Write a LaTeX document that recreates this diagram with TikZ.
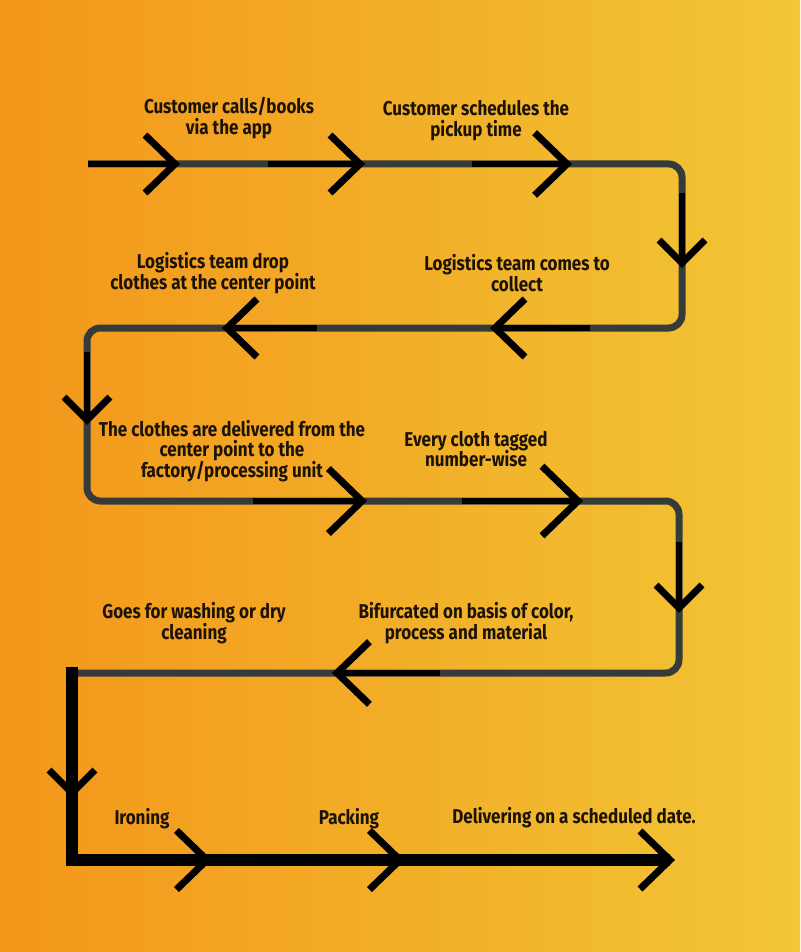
\documentclass[tikz,border=0pt]{standalone}
\usepackage{fontspec}
\setmainfont{Fira Sans}[FakeStretch=0.85]
\begin{document}
\begin{tikzpicture}[x=0.75pt,y=-0.75pt,
  lbl/.style={align=center,text=txt,font=\fontsize{15}{15.6}\selectfont\bfseries,inner sep=0pt},
  grayline/.style={draw=pathgray,line width=5.25pt,rounded corners=10pt},
  blackseg/.style={draw=black,line width=5pt},
  thickline/.style={draw=black,line width=8.5pt},
  chevline/.style={draw=black,line width=5.25pt,line cap=butt,line join=miter},
  chevR/.pic={\draw[chevline] (-30,-29) -- (0,0) -- (-30,29);},
  chevL/.pic={\draw[chevline] (30,-29) -- (0,0) -- (30,29);},
  chevD/.pic={\draw[chevline] (-23,-23) -- (0,0) -- (23,-23);}]
\definecolor{pathgray}{HTML}{353A3B}
\definecolor{txt}{HTML}{1C1306}
\definecolor{bgL}{HTML}{F3961A}
\definecolor{bgM}{HTML}{F2AD24}
\definecolor{bgR}{HTML}{F2C636}
\shade[left color=bgL,middle color=bgM,right color=bgR] (0,0) rectangle (800,952);
\useasboundingbox (0,0) rectangle (800,952);

% corner coordinates
\coordinate (s) at (88,164);
\coordinate (c1) at (682,164);
\coordinate (c2) at (682,328);
\coordinate (c3) at (87,328);
\coordinate (c4) at (87,501);
\coordinate (c5) at (679,501);
\coordinate (c6) at (679,673);
\coordinate (c7) at (72,673);
\coordinate (k1) at (72,667);
\coordinate (k2) at (72,860);
\coordinate (e) at (670,860);

% arrow tips
\coordinate (A1) at (175,164);
\coordinate (A2) at (360,164);
\coordinate (A3) at (567,164);
\coordinate (A4) at (682,263);
\coordinate (A5) at (495,328);
\coordinate (A6) at (227,328);
\coordinate (A7) at (87,420);
\coordinate (A8) at (362,501);
\coordinate (A9) at (578,501);
\coordinate (A10) at (679,608);
\coordinate (A11) at (337,673);
\coordinate (A12) at (72,793);
\coordinate (A13) at (207,860);
\coordinate (A14) at (400,860);

% black segment starts
\coordinate (B2) at (268,164);
\coordinate (B3) at (472,164);
\coordinate (B4) at (682,193);
\coordinate (B5) at (590,328);
\coordinate (B6) at (317,328);
\coordinate (B7) at (87,352);
\coordinate (B8) at (253,501);
\coordinate (B9) at (462,501);
\coordinate (B10) at (679,542);
\coordinate (B11) at (440,673);

\draw[grayline] (s) -- (c1) -- (c2) -- (c3) -- (c4) -- (c5) -- (c6) -- (c7);

\draw[blackseg] (s) -- (A1);
\draw[blackseg] (B2) -- (A2);
\draw[blackseg] (B3) -- (A3);
\draw[blackseg] (B4) -- (A4);
\draw[blackseg] (B5) -- (A5);
\draw[blackseg] (B6) -- (A6);
\draw[blackseg] (B7) -- (A7);
\draw[blackseg] (B8) -- (A8);
\draw[blackseg] (B9) -- (A9);
\draw[blackseg] (B10) -- (A10);
\draw[blackseg] (B11) -- (A11);

\draw[thickline,line join=miter] (k1) -- (k2) -- (e);

\pic at (A1) {chevR};
\pic at (A2) {chevR};
\pic[scale=1.08] at (A3) {chevR};
\pic at (A4) {chevD};
\pic at (A5) {chevL};
\pic at (A6) {chevL};
\pic at (A7) {chevD};
\pic[scale=1.12] at (A8) {chevR};
\pic[scale=1.2] at (A9) {chevR};
\pic at (A10) {chevD};
\pic[scale=1.08] at (A11) {chevL};
\pic at (A12) {chevD};
\pic[scale=1.02] at (A13) {chevR};
\pic[scale=1.02] at (A14) {chevR};
\pic at (e) {chevR};

% labels
\node[lbl] (t1) at (229,118) {Customer calls/books\\via the app};
\node[lbl] (t2) at (476,121) {Customer schedules the\\pickup time};
\node[lbl] (t3) at (517,273) {Logistics team comes to\\collect};
\node[lbl] (t4) at (213,273) {Logistics team drop\\clothes at the center point};
\node[lbl] (t5) at (232,451) {The clothes are delivered from the\\center point to the\\factory/processing unit};
\node[lbl] (t6) at (476,449) {Every cloth tagged\\number-wise};
\node[lbl] (t7) at (194,623) {Goes for washing or dry\\cleaning};
\node[lbl] (t8) at (466,623) {Bifurcated on basis of color,\\process and material};
\node[lbl] (t9) at (142,819) {Ironing};
\node[lbl] (t10) at (349,819) {Packing};
\node[lbl] (t11) at (574,818) {Delivering on a scheduled date.};
\end{tikzpicture}
\end{document}
